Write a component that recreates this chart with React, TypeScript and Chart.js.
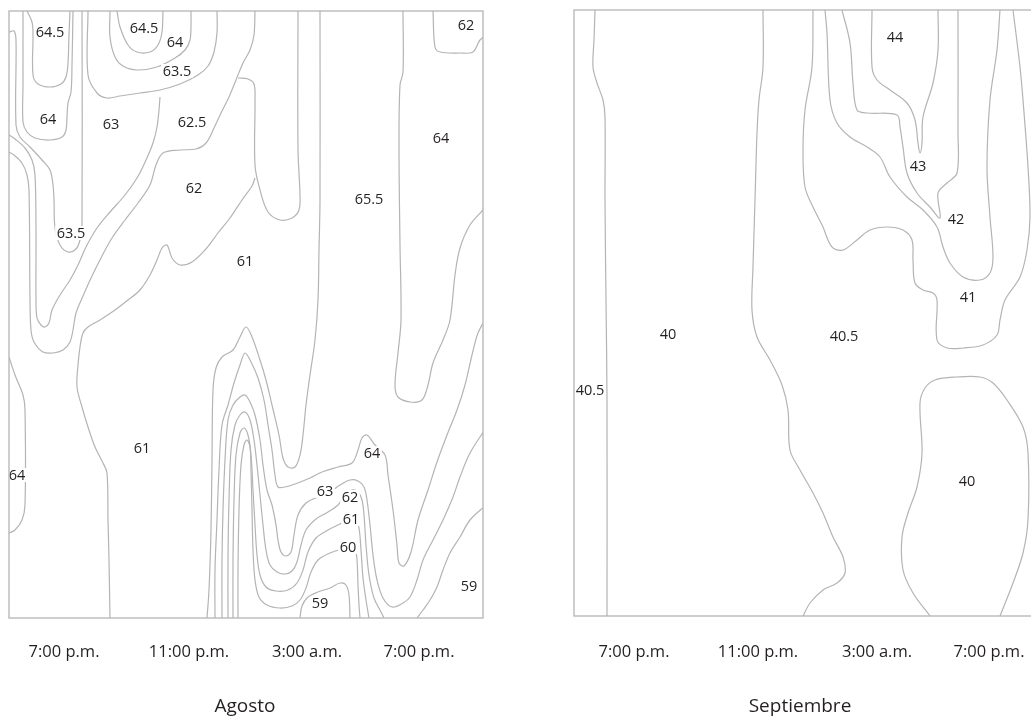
import React, { useEffect, useRef } from "react";
import { Chart, registerables } from "chart.js";

Chart.register(...registerables);

type Pt = [number, number];
type Label = [number, number, string];

// ---------- shared axis text ----------
const tickLabels = ["7:00 p.m.", "11:00 p.m.", "3:00 a.m.", "7:00 p.m."];
const agostoTickPos = [11, 36, 59.6, 82];
const septiembreTickPos = [12, 36.8, 60.6, 83];

// ---------- Agosto contour lines (x: time index, y: depth index, top = 0) ----------
const ag645a: Pt[] = [[3.6,0],[4.6,2.2],[4.8,4.8],[4.8,12.8],[5.8,14.6],[8.2,15.2],[10.4,14.6],[11.4,13.2],[11.8,10.4],[12,4.8],[12.2,0]];
const ag64a: Pt[] = [[2.8,0],[2.8,14.8],[2.8,22.2],[3.6,24.2],[5.2,25.4],[8.2,25.8],[10.6,25.2],[11.4,23.8],[11.6,21.2],[11.8,18.4],[12.4,16.2],[12.6,10.8],[12.8,0]];
const ag635a: Pt[] = [[0,4.2],[1,4],[1.4,5.8],[1.4,22.8],[2.2,25.2],[4.2,27.2],[6.6,29.8],[8.2,31.8],[8.8,34.8],[9,37.8],[9.2,43.4],[10.2,46.8],[11.8,48.2],[13.4,47.6],[14.2,45.8],[14.6,42.8],[14.6,0]];
const ag63a: Pt[] = [[0,24.8],[1.2,25.6],[3.2,27.4],[4.6,29.8],[5.2,32.8],[5.4,43.8],[5.4,57.8],[5.6,61.4],[6.4,62.8],[7.2,63.2],[8,62.4],[8.6,59.8],[10.2,56.8],[12.2,53.8],[13.8,50.8],[15.4,47.2],[17.6,43.4],[20.2,40.2],[23.2,36.8],[25.6,33.4],[27.4,29.8],[28.8,26.4],[29.6,23.2],[30,19.8],[30.2,17.2]];
const ag625a: Pt[] = [[0,28.2],[1,28.8],[2.6,30.4],[3.6,32.8],[4,35.8],[4.2,57.8],[4.4,63.8],[5,66.2],[6.8,68.2],[8.8,68.4],[10.8,67.8],[12.2,66.2],[12.8,63.8],[13.4,60.4],[14.8,57],[16.6,53],[18.6,49],[20.6,45.4],[23.2,41.8],[25.8,38.4],[28.2,34.8],[29.4,30.8],[30.8,28.4],[34.2,27.8],[37.4,27.6],[39.4,26.4],[41,23.4],[42.4,20.4],[44,17.2],[45.4,13.8],[46.8,10.4],[48.2,7.8],[49,4.8],[49.2,0]];
const ag645b: Pt[] = [[21.6,0],[22.2,3.2],[23.8,6.8],[25.6,8.2],[28.2,8.2],[29.8,6.8],[30.6,4.2],[30.8,0]];
const ag64b: Pt[] = [[20.2,0],[20.2,5.2],[21.2,9.2],[22.8,11],[25.6,11.8],[29.6,11.2],[33.2,9.4],[35.2,7.8],[36.2,5.8],[36.4,2.8],[36.4,0]];
const ag635b: Pt[] = [[15.8,0],[15.8,12.8],[17.6,16.4],[19.6,17.4],[22.2,17],[26.2,16.4],[30.2,15.8],[34.2,14.6],[37.8,12.8],[39.8,11],[41,8.2],[41.6,4.4],[41.6,0]];
const ag62a: Pt[] = [[45.8,13.4],[47.8,13.6],[49,14.6],[49.2,17.8],[49.2,30.8],[50.2,35.8],[51.8,40.2],[54.2,41.8],[56.6,41.4],[58,39.8],[58.2,36.8],[57.8,27.8],[57.8,0]];
const ag61a: Pt[] = [[20.2,121.4],[20,109.8],[19.8,101.8],[19.6,92.4],[18.8,90.4],[17.2,87.2],[15.8,83.2],[14.6,79.2],[13.6,75.2],[13.8,70.8],[14.2,67.2],[14.8,64.4],[15.8,63.2],[18.2,61.8],[21.2,59.8],[23.8,57.8],[26.2,55.8],[28.2,52.8],[29.6,49.8],[30.6,47.4],[31.6,46.8],[32.6,49.4],[34.2,50.8],[36.6,50.2],[39.2,47.8],[41.8,44.4],[44.2,41.4],[46.6,37.8],[48.6,35],[49.2,33.4]];
const ag64c: Pt[] = [[0,69.2],[1.2,72.8],[2.8,76.8],[3.2,79.8],[3.2,98.8],[2.6,101.8],[1.2,103.8],[0,104.4]];
const ag64d: Pt[] = [[78.8,0],[78.8,12.2],[78.2,14.8],[78,26.8],[78.2,46.8],[78.4,61.8],[77.8,68.4],[77.2,74.8],[77.8,77.2],[80.2,78.2],[82.6,77.8],[83.8,74.8],[84.8,70.4],[86.8,65.8],[88.2,61.8],[89.2,52.8],[90.2,47.4],[92.2,42.8],[94.8,39.8],[95.4,39.2]];
const ag62b: Pt[] = [[84.8,0],[85.2,7.2],[86.2,8.2],[90.2,8.4],[92.8,8.2],[94.2,5.8],[95.4,5]];
const ag65: Pt[] = [[39.6,121.4],[40,115.8],[40.4,103.8],[40.6,89.8],[40.8,75.8],[41.4,71.4],[42.6,69.2],[44.8,67.8],[46.2,65.2],[47.4,63.2],[48.6,65.2],[50.2,69.8],[51.4,73.8],[52.6,78.8],[54,84.8],[54.8,89.4],[55.8,91.2],[57.2,91.2],[58.2,88.8],[58.8,84.8],[59.4,78.8],[60.2,72.8],[61.2,65.8],[61.8,57.8],[62,47.8],[62.2,37.8],[62.2,0]];
const ag64e: Pt[] = [[41.2,121.4],[41.2,111.8],[41.6,101.8],[42,91.8],[42.6,82.8],[43.8,78.8],[45,74.4],[46.2,70.8],[47.2,68.4],[48.4,70.2],[49.8,73.4],[51,77.8],[51.8,82.8],[52.6,87.8],[53.2,92.8],[53.8,95.2],[55.2,95.2],[57.2,94.6],[60.2,93.4],[62.6,92.2],[65.8,91.2],[68.6,90.4],[69.8,87.8],[70.6,85.4],[71.6,84.8],[73.2,86.8],[75.2,88.8],[75.8,92.8],[76.8,99.8],[77.6,106.8],[78,110.4],[79,111],[80.4,108.2],[81.8,101.8],[83.8,95.8],[85.6,90.2],[87.6,84.8],[89.6,79.8],[91.2,74.8],[92.6,68.8],[93.8,64.4],[95.4,61.4]];
const ag63c: Pt[] = [[42.6,121.4],[42.6,109.8],[42.8,99.8],[43.2,89.8],[43.8,81.8],[44.8,78.8],[46.2,77.2],[47.2,76.8],[48.2,78.2],[49.2,80.8],[50.2,85.8],[50.8,90.8],[51.6,95.8],[52.6,98.8],[53.4,102.8],[53.8,105.8],[54.4,108.2],[55.4,109],[56.4,108.2],[57,104.8],[57.8,100.8],[59.4,98.4],[61.8,97.2],[64.2,96.2],[66.2,94.8],[68.2,93.8],[69.8,94],[71,95.2],[71.6,97.8],[72.2,102.8],[72.8,108.8],[73.6,113.8],[74.8,117.4],[76.6,119.2],[78.8,118.4],[80.2,117.2],[81.6,113.8],[82.8,109.8],[84.8,105.8],[86.8,101.8],[88.8,97.2],[90.2,93.2],[92.2,88.4],[95.4,83.4]];
const ag62c: Pt[] = [[43.8,121.4],[43.8,109.8],[44,97.8],[44.4,87.8],[45.2,82.8],[46.2,80.8],[47.2,80.2],[48.2,81.8],[49,85.8],[49.6,90.8],[50.2,96.8],[50.8,102.8],[51.4,107.8],[52.2,110.8],[53.6,112.2],[55.2,112.6],[56.6,112],[57.6,110.2],[58.4,106.8],[59.4,103.8],[61.4,101.6],[63.8,100.2],[65.8,98.8],[67.2,96.8],[68.6,95.8],[69.8,96.2],[70.6,97.8],[71,100.8],[71.4,106.8],[72,112.8],[73,117.4],[74.4,120.2],[75,121.4]];
const ag61b: Pt[] = [[44.8,121.4],[44.8,109.8],[45,97.8],[45.4,88.8],[46.2,84.4],[47,83.4],[47.8,84.8],[48.4,88.8],[48.8,95.8],[49.2,102.8],[49.6,108.8],[50.2,112.8],[51.4,115.2],[53.4,116],[55.8,115.8],[57.6,114.4],[58.8,111.8],[59.8,108.2],[61.4,105.4],[63.8,103.8],[66.2,102.6],[68.2,101.6],[69.4,101.8],[70,103.4],[70.4,107.8],[70.8,113.4],[71.4,117.8],[72,121.4]];
const ag60: Pt[] = [[45.8,121.4],[45.8,111.8],[46,99.8],[46.4,90.8],[47,86.8],[47.6,85.8],[48.2,87.2],[48.4,91.8],[48.6,99.8],[48.8,107.8],[49.2,113.8],[50,117.2],[51.6,118.8],[54.2,119.4],[56.6,119],[58.2,117.8],[59.4,115.4],[60.4,112.2],[61.8,109.8],[64.2,108.4],[66.6,107.6],[68.2,107.2],[69.2,107.6],[69.6,109.8],[69.8,114.8],[70,118.8],[70.2,121.4]];
const ag59a: Pt[] = [[58.2,121.4],[58.6,119],[59.8,117.2],[61.8,116.2],[64.2,115.4],[66.2,114.4],[67.4,114.8],[68,116.8],[68.2,121.4]];
const ag59b: Pt[] = [[95.4,98.8],[92.2,101.8],[90.2,105.2],[88.2,108.4],[86.8,111.8],[85.6,115.2],[84.2,117.8],[82.8,119.8],[81.6,121.4]];

const agostoLines: Pt[][] = [ag645a, ag64a, ag635a, ag63a, ag625a, ag645b, ag64b, ag635b, ag62a, ag61a, ag64c, ag64d, ag62b, ag65, ag64e, ag63c, ag62c, ag61b, ag60, ag59a, ag59b];

const agostoLabels: Label[] = [
  [8.2, 4.2, "64.5"], [27, 3.4, "64.5"], [33.2, 6.2, "64"], [33.6, 12, "63.5"], [91.4, 2.8, "62"],
  [7.8, 21.6, "64"], [20.4, 22.6, "63"], [36.6, 22.2, "62.5"], [37, 35.4, "62"], [86.4, 25.4, "64"],
  [72, 37.6, "65.5"], [12.4, 44.4, "63.5"], [47.2, 50, "61"], [26.6, 87.4, "61"], [1.6, 92.8, "64"],
  [72.6, 88.4, "64"], [63.2, 96, "63"], [68.2, 97.2, "62"], [68.4, 101.6, "61"], [67.8, 107.2, "60"],
  [62.2, 118.4, "59"], [92, 115, "59"],
];

// ---------- Septiembre contour lines ----------
const sp405a: Pt[] = [[4.2,0],[4,6],[3.8,11.4],[4.6,14.6],[5.8,18],[6.2,21.4],[6.2,38],[6.4,58],[6.6,78],[6.6,121.2]];
const sp405b: Pt[] = [[37.8,0],[37.8,11.4],[37,18],[36.6,24.6],[36.2,38],[35.8,51.4],[35.6,60],[36.6,65.4],[39.2,70],[41.6,75],[42.8,80],[43.2,88],[45.2,92],[47.8,96.6],[49.8,100.6],[51.8,105.4],[53.8,109.4],[54.2,112.6],[52.6,114.6],[49.8,116],[47.2,118.6],[45.8,121.2]];
const sp40: Pt[] = [[71.2,121.2],[67.8,116.6],[65.8,112],[65.6,105.4],[66.8,100.6],[68.6,95.4],[69.6,88.6],[69.2,78.6],[70.2,75.6],[72.2,74],[76.6,73.4],[81.2,73.4],[83.8,74.6],[86.6,78],[89.8,83.4],[90.8,88.6],[90.8,102],[89.8,108.6],[87.8,114.6],[85.2,121.2]];
const sp41: Pt[] = [[47.8,0],[47.6,11.4],[46.2,20],[45.8,28],[46.2,35.4],[47.8,39.4],[49.8,43.4],[50.8,46],[51.8,47.6],[53.8,48],[56.6,46],[59.2,44],[62.6,43.4],[65.8,44],[67.6,46],[67.8,50],[68.2,54.6],[69.8,56],[71.8,56.6],[72.6,58],[72.6,66],[74.6,67.6],[77.8,67.6],[81.8,67],[84.6,65],[85.2,62],[86.2,58],[89.2,53.4],[90.6,48],[91.2,41.4],[90.8,31.4],[89.8,18],[89.2,11.4],[87.8,0]];
const sp42: Pt[] = [[50.2,0],[50.6,4.6],[51.2,18],[52.6,22.6],[55.2,25.4],[58.6,27.4],[61.2,29.4],[63.2,33.4],[66.6,37.4],[69.8,40],[72.6,43.4],[73.8,47.4],[75.2,50.6],[77.8,53.4],[81.2,54],[83.2,52.6],[83.8,49.4],[83.2,41.4],[82.6,31.4],[83.2,18],[84.6,8],[85.2,0]];
const sp43: Pt[] = [[53.6,0],[55.2,6.6],[55.8,14.6],[56.6,20],[58.6,20.6],[64.6,21],[65.2,23.4],[65.8,27.4],[66.6,32.6],[68.6,36.6],[71.2,39.4],[73.2,41.6],[72.8,36.6],[74.6,34.6],[76.6,32.6],[76.8,24.6],[76.8,0]];
const sp44: Pt[] = [[59.6,0],[59.6,11.4],[60.6,14],[63.2,16],[66.6,18.6],[68.2,22],[68.8,26.6],[69.2,28.6],[69.6,26.6],[69.8,21.4],[71.8,14.6],[72.8,8],[72.8,0]];

const septiembreLines: Pt[][] = [sp405a, sp405b, sp40, sp41, sp42, sp43, sp44];

const septiembreLabels: Label[] = [
  [64.2, 5.4, "44"], [68.8, 31.2, "43"], [76.4, 41.8, "42"], [78.8, 57.4, "41"],
  [18.8, 64.8, "40"], [54, 65.2, "40.5"], [3.2, 76, "40.5"], [78.6, 94.2, "40"],
];

const LINE = "#b4b4b6";
const TEXT = "#231f20";
const FONT = '"Open Sans", "Noto Sans", sans-serif';

type PanelProps = {
  lines: Pt[][];
  labels: Label[];
  ticks: number[];
  title: string;
  titleX: number;
  xMax: number;
  yMax: number;
  left: number;
  width: number;
  padding: { left: number; right: number; top: number; bottom: number };
  tickBaseline: number;
  titleBaseline: number;
};

function Panel(p: PanelProps) {
  const ref = useRef<HTMLCanvasElement | null>(null);
  useEffect(() => {
    if (!ref.current) return;
    const decor = {
      id: "contourDecor",
      afterDatasetsDraw(chart: any) {
        const { ctx, chartArea: a, scales } = chart;
        const x = scales.x, y = scales.y;
        ctx.save();
        ctx.font = `14.5px ${FONT}`;
        ctx.textAlign = "center";
        ctx.textBaseline = "middle";
        for (const [lx, ly, t] of p.labels) {
          const px = x.getPixelForValue(lx);
          const py = y.getPixelForValue(ly);
          const w = ctx.measureText(t).width;
          ctx.fillStyle = "#ffffff";
          ctx.fillRect(px - w / 2 - 1.5, py - 7, w + 3, 14);
          ctx.fillStyle = TEXT;
          ctx.fillText(t, px, py + 1);
        }
        ctx.strokeStyle = LINE;
        ctx.lineWidth = 1.3;
        ctx.strokeRect(a.left, a.top, a.right - a.left, a.bottom - a.top);
        ctx.fillStyle = TEXT;
        ctx.textBaseline = "alphabetic";
        ctx.font = `16.5px ${FONT}`;
        p.ticks.forEach((v, i) => {
          ctx.fillText(tickLabels[i], x.getPixelForValue(v), p.tickBaseline);
        });
        ctx.font = `19px ${FONT}`;
        ctx.fillText(p.title, x.getPixelForValue(p.titleX), p.titleBaseline);
        ctx.restore();
      },
    };
    const chart = new Chart(ref.current, {
      type: "scatter",
      data: {
        datasets: p.lines.map((l) => ({
          data: l.map(([x, y]) => ({ x, y })),
          showLine: true,
          borderColor: LINE,
          borderWidth: 1.2,
          pointRadius: 0,
          tension: 0.35,
          fill: false,
        })),
      },
      options: {
        animation: false,
        responsive: false,
        devicePixelRatio: 1,
        events: [],
        layout: { padding: p.padding },
        plugins: { legend: { display: false }, tooltip: { enabled: false }, title: { display: false } },
        scales: {
          x: { type: "linear", min: 0, max: p.xMax, display: false },
          y: { type: "linear", min: 0, max: p.yMax, reverse: true, display: false },
        },
      },
      plugins: [decor],
    } as any);
    return () => chart.destroy();
  }, []);
  return (
    <canvas
      ref={ref}
      width={p.width}
      height={717}
      style={{ position: "absolute", left: p.left, top: 0, width: p.width, height: 717 }}
    />
  );
}

export default function App() {
  return (
    <div style={{ position: "absolute", left: 0, top: 0, width: 1031, height: 717, overflow: "hidden", background: "#fff" }}>
      <Panel
        lines={agostoLines}
        labels={agostoLabels}
        ticks={agostoTickPos}
        title="Agosto"
        titleX={47.2}
        xMax={94.8}
        yMax={121.4}
        left={0}
        width={540}
        padding={{ left: 9, right: 57, top: 11, bottom: 99 }}
        tickBaseline={657}
        titleBaseline={712}
      />
      <Panel
        lines={septiembreLines}
        labels={septiembreLabels}
        ticks={septiembreTickPos}
        title="Septiembre"
        titleX={45.2}
        xMax={94.8}
        yMax={121.2}
        left={530}
        width={540}
        padding={{ left: 44, right: 22, top: 10, bottom: 101 }}
        tickBaseline={657}
        titleBaseline={712}
      />
    </div>
  );
}
